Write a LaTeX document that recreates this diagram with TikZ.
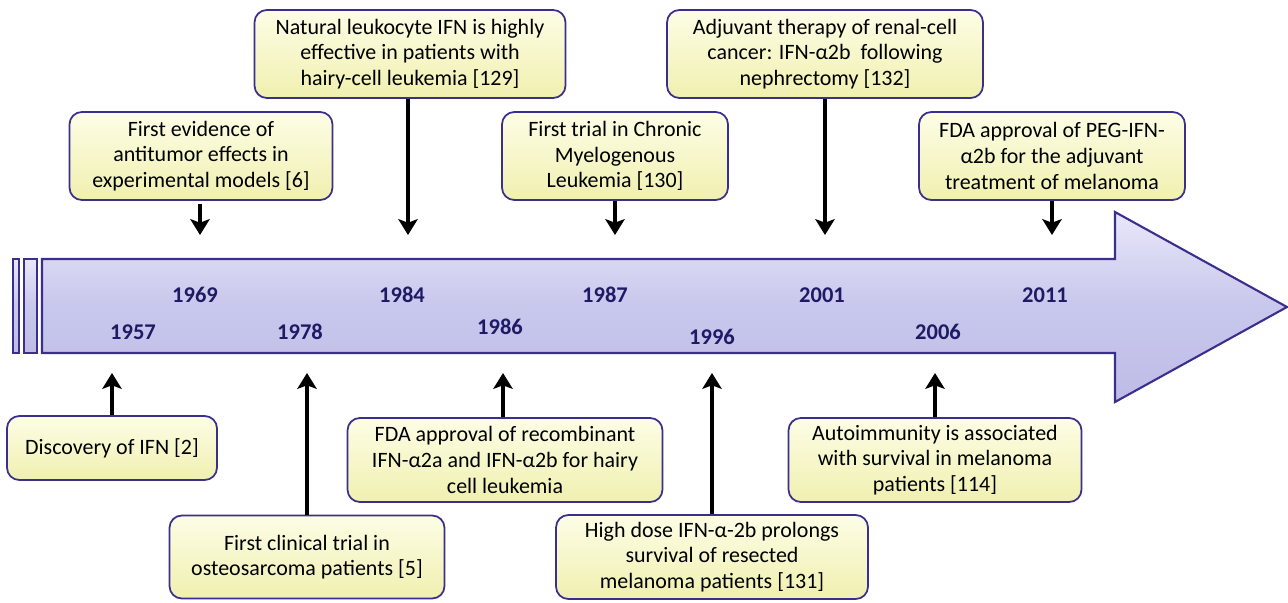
\documentclass[tikz,border=0pt]{standalone}
\usepackage{fontspec}
\setmainfont{Carlito}
\usepackage{tikz}
\usetikzlibrary{arrows.meta,shapes,positioning,calc}
\definecolor{tlborder}{HTML}{3A2F8C}
\definecolor{tlfill}{HTML}{C8C7EC}
\definecolor{tllight}{HTML}{E8E7F9}
\definecolor{tldark}{HTML}{BEBCE6}
\definecolor{boxtop}{HTML}{FDFDE6}
\definecolor{boxbot}{HTML}{F0F0B0}
\definecolor{yrcol}{HTML}{1E1A66}
\tikzset{
  event/.style={rectangle,rounded corners=7pt,draw=tlborder,line width=1pt,
    top color=boxtop,bottom color=boxbot,align=center,inner sep=2pt,
    font=\fontsize{12.5}{14.6}\selectfont},
  yr/.style={font=\bfseries\fontsize{12.8}{14}\selectfont,text=yrcol},
  evarrow/.style={-{Stealth[length=9pt,width=11pt,inset=2pt]},line width=2pt}
}
\begin{document}
\begin{tikzpicture}
  \begin{scope}[x=0.02cm,y=-0.02cm]
    \useasboundingbox (0,0) rectangle (1288,602);
    % timeline
    \draw[tlborder,line width=1.2pt,top color=tllight,bottom color=tldark,middle color=tlfill]
      (13,259) rectangle (19,353);
    \draw[tlborder,line width=1.2pt,top color=tllight,bottom color=tldark,middle color=tlfill]
      (24,259) rectangle (37,353);
    \draw[tlborder,line width=1.2pt,top color=tllight,bottom color=tldark,middle color=tlfill]
      (42,259) -- (1115,259) -- (1115,212) -- (1287,307) -- (1115,402) -- (1115,353)
      -- (42,353) -- cycle;
    % years
    \node[yr] (y57) at (133,332) {1957};
    \node[yr] (y69) at (195,295) {1969};
    \node[yr] (y78) at (300,332) {1978};
    \node[yr] (y84) at (402,295) {1984};
    \node[yr] (y86) at (500,327) {1986};
    \node[yr] (y87) at (605,295) {1987};
    \node[yr] (y96) at (712,337) {1996};
    \node[yr] (y01) at (822,295) {2001};
    \node[yr] (y06) at (938,332) {2006};
    \node[yr] (y11) at (1045,295) {2011};
    % events above
    \node[event,minimum width=5.26cm,minimum height=1.76cm] (evA) at (201,156)
      {First evidence of\\antitumor effects in\\experimental models [6]};
    \node[event,minimum width=6.22cm,minimum height=1.76cm] (evB) at (410,54)
      {Natural leukocyte IFN is highly\\effective in patients with\\hairy-cell leukemia [129]};
    \node[event,minimum width=4.52cm,minimum height=1.76cm] (evC) at (615,156)
      {First trial in Chronic\\Myelogenous\\Leukemia [130]};
    \node[event,minimum width=6.32cm,minimum height=1.76cm] (evD) at (825,54)
      {Adjuvant therapy of renal-cell\\cancer: IFN-α2b\ \ following\\nephrectomy [132]};
    \node[event,minimum width=5.32cm,minimum height=1.76cm] (evE) at (1052,156)
      {FDA approval of PEG-IFN-\\α2b for the adjuvant\\treatment of melanoma};
    % events below
    \node[event,minimum width=4.2cm,minimum height=1.28cm] (evF) at (112,448)
      {Discovery of IFN [2]};
    \node[event,minimum width=5.5cm,minimum height=1.66cm] (evG) at (307,557)
      {First clinical trial in\\osteosarcoma patients [5]};
    \node[event,minimum width=6.3cm,minimum height=1.68cm] (evH) at (505,460)
      {FDA approval of recombinant\\IFN-α2a and IFN-α2b for hairy\\cell leukemia};
    \node[event,minimum width=6.24cm,minimum height=1.68cm] (evI) at (712,557)
      {High dose IFN-α-2b prolongs\\survival of resected\\melanoma patients [131]};
    \node[event,minimum width=5.86cm,minimum height=1.68cm] (evJ) at (935,460)
      {Autoimmunity is associated\\with survival in melanoma\\patients [114]};
    % arrow tips
    \coordinate (tA) at (200,235);
    \coordinate (tB) at (408,235);
    \coordinate (tC) at (615,235);
    \coordinate (tD) at (825,235);
    \coordinate (tE) at (1052,235);
    \coordinate (tF) at (112,373);
    \coordinate (tG) at (307,373);
    \coordinate (tH) at (503,373);
    \coordinate (tI) at (712,373);
    \coordinate (tJ) at (935,373);
    \draw[evarrow] (evA.south -| tA) ++(0,3) -- (tA);
    \draw[evarrow] (evB.south -| tB) -- (tB);
    \draw[evarrow] (evC.south -| tC) -- (tC);
    \draw[evarrow] (evD.south -| tD) -- (tD);
    \draw[evarrow] (evE.south -| tE) -- (tE);
    \draw[evarrow] (evF.north -| tF) -- (tF);
    \draw[evarrow] (evG.north -| tG) -- (tG);
    \draw[evarrow] (evH.north -| tH) -- (tH);
    \draw[evarrow] (evI.north -| tI) -- (tI);
    \draw[evarrow] (evJ.north -| tJ) -- (tJ);
  \end{scope}
\end{tikzpicture}
\end{document}
